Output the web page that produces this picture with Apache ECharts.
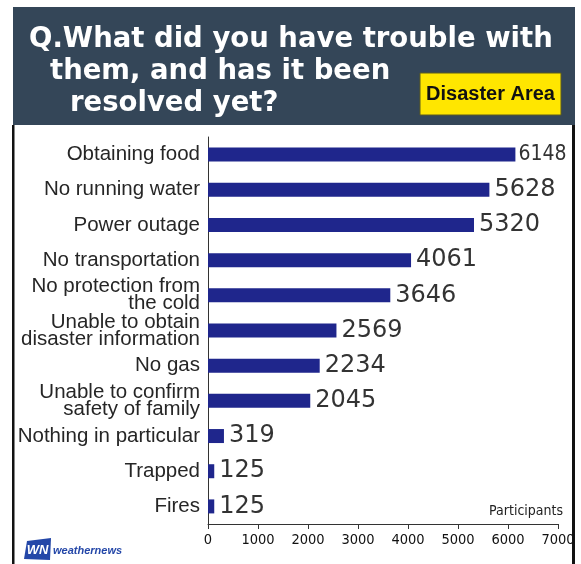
<!DOCTYPE html>
<html>
<head>
<meta charset="utf-8">
<script src="https://cdn.jsdelivr.net/npm/echarts@6/dist/echarts.min.js"></script>
<style>
  html, body { margin: 0; padding: 0; background: #ffffff; }
  #chart { width: 581px; height: 564px; }
</style>
</head>
<body>
<div id="chart"></div>
<script>
// Survey answers, top to bottom
const categories = [
  'Obtaining food',
  'No running water',
  'Power outage',
  'No transportation',
  'No protection from\nthe cold',
  'Unable to obtain\ndisaster information',
  'No gas',
  'Unable to confirm\nsafety of family',
  'Nothing in particular',
  'Trapped',
  'Fires'
];
const participants = [6148, 5628, 5320, 4061, 3646, 2569, 2234, 2045, 319, 125, 125];

// Value axis range
const axisMin = 0;
const axisMax = 7000;
const axisStep = 1000;

const titleLines = [
  'Q.What did you have trouble with',
  'them, and has it been',
  'resolved yet?'
];
const badgeText = 'Disaster Area';
const axisUnit = 'Participants';
const brandText = 'weathernews';

const BAR = '#1f268c';
const HEADER = '#344658';
const NARROW = '"DejaVu Sans Condensed", "Liberation Sans Narrow", sans-serif';

const chart = echarts.init(document.getElementById('chart'), null, { renderer: 'canvas' });

const seriesData = participants.map(function (v, i) {
  if (i === 0) {
    // the longest bar's label is set narrower so it stays inside the frame
    return {
      value: v,
      label: { fontFamily: NARROW, fontSize: 21, distance: 3 }
    };
  }
  return v;
});

const titleX = [29, 50, 70];
const titleY = [40, 72, 104];

const graphics = [
  // header band
  { type: 'rect', shape: { x: 13, y: 7, width: 562, height: 118 }, style: { fill: HEADER }, z: 0 },
  // frame sides
  { type: 'rect', shape: { x: 12, y: 125, width: 2.5, height: 439 }, style: { fill: '#111' }, z: 0 },
  { type: 'rect', shape: { x: 572, y: 125, width: 3, height: 439 }, style: { fill: '#111' }, z: 0 },
  // badge
  { type: 'rect', shape: { x: 420, y: 73, width: 141, height: 42 },
    style: { fill: '#ffe600', stroke: '#5a5a20', lineWidth: 1 }, z: 1 },
  { type: 'text', x: 490.5, y: 94, style: {
      text: badgeText, fill: '#111', font: 'bold 20px "Liberation Sans", Arial, sans-serif',
      textAlign: 'center', textVerticalAlign: 'middle' }, z: 2 },
  // axis unit
  { type: 'text', x: 563, y: 518, style: {
      text: axisUnit, fill: '#222', font: '14px ' + NARROW,
      textAlign: 'right', textVerticalAlign: 'bottom' }, z: 2 },
  // brand mark
  { type: 'polygon', shape: { points: [[27, 541], [51, 538], [50, 560], [24, 559]] },
    style: { fill: '#2447a8' }, z: 1 },
  { type: 'text', x: 37.5, y: 550, style: {
      text: 'WN', fill: '#ffffff', font: 'italic bold 13px "Liberation Sans", sans-serif',
      textAlign: 'center', textVerticalAlign: 'middle' }, z: 2 },
  { type: 'text', x: 53, y: 551, style: {
      text: brandText, fill: '#2447a8', font: 'italic bold 11px "Liberation Sans", sans-serif',
      textAlign: 'left', textVerticalAlign: 'middle' }, z: 2 }
];

titleLines.forEach(function (line, i) {
  graphics.push({
    type: 'text', x: titleX[i], y: titleY[i],
    style: {
      text: line, fill: '#ffffff',
      font: 'bold 27.5px "DejaVu Sans", sans-serif',
      textAlign: 'left', textVerticalAlign: 'middle'
    }, z: 2
  });
});

chart.setOption({
  animation: false,
  backgroundColor: '#ffffff',
  grid: { left: 208, right: 23, top: 137, bottom: 40, containLabel: false },
  xAxis: {
    type: 'value',
    min: axisMin, max: axisMax, interval: axisStep,
    axisLine: { show: true, lineStyle: { color: '#333', width: 1 } },
    axisTick: { show: true, length: 5, lineStyle: { color: '#333' } },
    splitLine: { show: false },
    axisLabel: {
      margin: 9, color: '#111', fontSize: 14.5,
      fontFamily: NARROW,
      formatter: function (v) { return String(v); }
    }
  },
  yAxis: {
    type: 'category',
    data: categories,
    inverse: true,
    axisLine: { show: true, lineStyle: { color: '#333', width: 1 } },
    axisTick: { show: false },
    axisLabel: {
      margin: 8, color: '#262626', fontSize: 20.5, lineHeight: 17,
      fontFamily: '"Liberation Sans", Arial, sans-serif'
    }
  },
  series: [{
    type: 'bar',
    data: seriesData,
    barWidth: 14,
    itemStyle: { color: BAR },
    label: {
      show: true, position: 'right', distance: 5,
      color: '#333', fontSize: 24,
      fontFamily: '"DejaVu Sans", sans-serif'
    }
  }],
  graphic: graphics
});
</script>
</body>
</html>
